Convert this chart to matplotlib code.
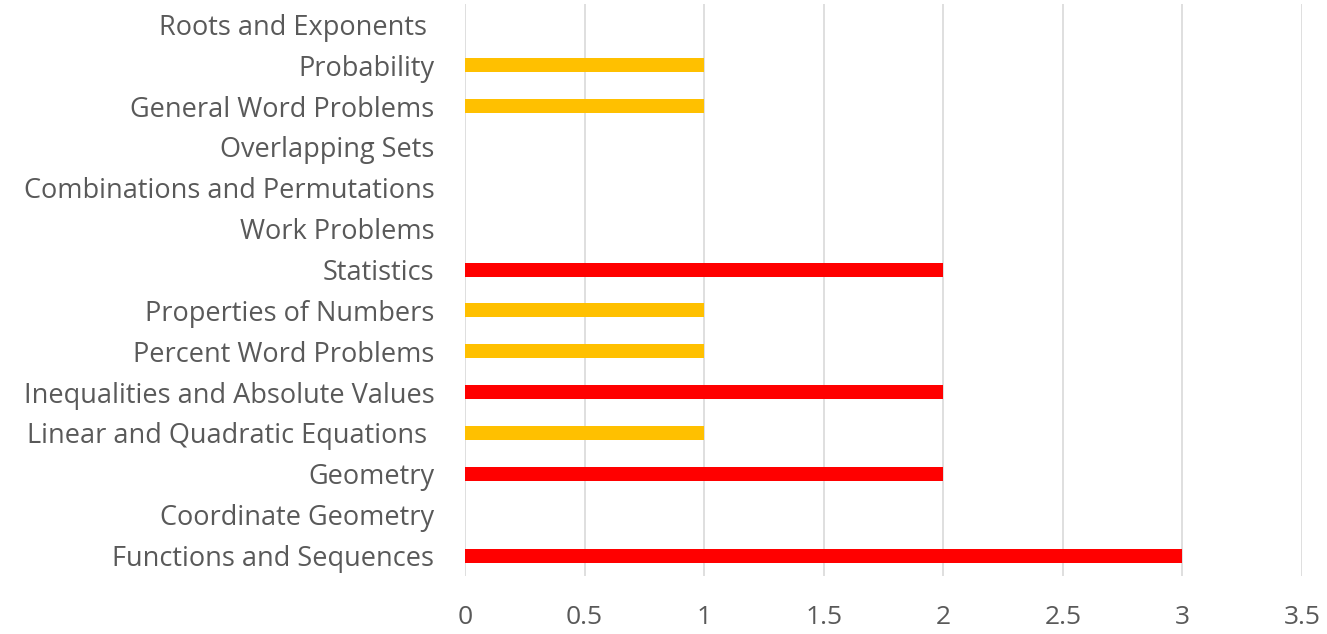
import matplotlib
matplotlib.use('Agg')
import matplotlib.pyplot as plt

# categories from bottom to top
topics = ['Functions and Sequences', 'Coordinate Geometry', 'Geometry',
          'Linear and Quadratic Equations ', 'Inequalities and Absolute Values',
          'Percent Word Problems', 'Properties of Numbers', 'Statistics',
          'Work Problems', 'Combinations and Permutations', 'Overlapping Sets',
          'General Word Problems', 'Probability', 'Roots and Exponents ']
counts = [3, 0, 2, 1, 2, 1, 1, 2, 0, 0, 0, 1, 1, 0]
ticks = [0, 0.5, 1, 1.5, 2, 2.5, 3, 3.5]
tick_labels = ['0', '0.5', '1', '1.5', '2', '2.5', '3', '3.5']

RED = '#FF0000'
AMBER = '#FFC000'
colors = [RED if c >= 2 else AMBER for c in counts]

plt.rcParams['font.family'] = ['Open Sans', 'DejaVu Sans']

fig = plt.figure(figsize=(13.27, 6.34), dpi=100)
ax = fig.add_axes([0.3504, 0.0915, 0.6308, 0.9022])

ax.barh(range(len(topics)), counts, height=0.34, color=colors, zorder=3)

ax.set_xlim(0, 3.5)
ax.set_ylim(-0.5, len(topics) - 0.5)
ax.set_xticks(ticks)
ax.set_xticklabels(tick_labels)
ax.set_yticks(range(len(topics)))
ax.set_yticklabels(topics)

ax.grid(axis='x', color='#D9D9D9', linewidth=1.2, zorder=0)
for s in ax.spines.values():
    s.set_visible(False)
ax.tick_params(axis='both', length=0, labelcolor='#595959')
ax.tick_params(axis='y', pad=22, labelsize=19.5)
ax.tick_params(axis='x', pad=21, labelsize=19)

fig.savefig('out.png', dpi=100)
